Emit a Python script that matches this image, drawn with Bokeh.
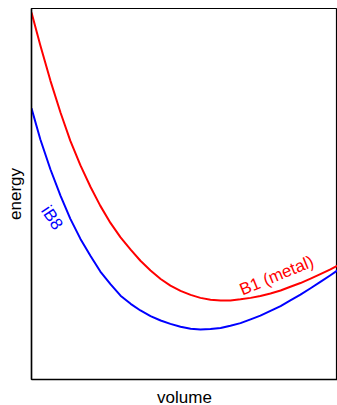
from bokeh.plotting import figure
from bokeh.models import Label, Range1d
from bokeh.embed import file_html
from bokeh.resources import INLINE

# Energy-volume curves of two phases (arbitrary units), sampled on a common volume grid
volume = [0.00, 0.29, 0.62, 0.95, 1.27, 1.60, 1.93, 2.25, 2.58, 2.91,
          3.24, 3.56, 3.89, 4.22, 4.54, 4.87, 5.20, 5.52, 5.85, 6.18,
          6.50, 6.83, 7.16, 7.48, 7.81, 8.14, 8.46, 8.79, 9.12, 9.44,
          9.77, 10.00]

b1_energy = [9.89, 9.00, 8.05, 7.19, 6.43, 5.77, 5.19, 4.68, 4.22, 3.83,
             3.50, 3.20, 2.94, 2.71, 2.53, 2.39, 2.28, 2.20, 2.15, 2.13,
             2.13, 2.16, 2.20, 2.25, 2.32, 2.40, 2.50, 2.60, 2.72, 2.84,
             2.97, 3.07]

ib8_energy = [7.31, 6.47, 5.66, 4.95, 4.33, 3.79, 3.33, 2.91, 2.57, 2.26,
              2.04, 1.86, 1.71, 1.59, 1.50, 1.42, 1.37, 1.35, 1.36, 1.39,
              1.45, 1.52, 1.62, 1.72, 1.85, 1.98, 2.13, 2.29, 2.46, 2.63,
              2.81, 2.94]

FONT = "Liberation Sans"

p = figure(
    frame_width=306, frame_height=371,
    min_border_left=31, min_border_right=0,
    min_border_top=8, min_border_bottom=26,
    x_range=Range1d(0, 10), y_range=Range1d(0, 10),
    output_backend="svg", toolbar_location=None,
)

p.grid.visible = False
p.outline_line_color = "black"
p.outline_line_width = 1.2

for ax in (p.xaxis[0], p.yaxis[0]):
    ax.ticker = []
    ax.major_tick_line_color = None
    ax.minor_tick_line_color = None
    ax.major_label_text_font_size = "0px"
    ax.major_label_standoff = 0
    ax.major_tick_out = 0
    ax.axis_line_color = "black"
    ax.axis_line_width = 1.5
    ax.axis_label_text_font = FONT
    ax.axis_label_text_font_size = "17px"
    ax.axis_label_text_font_style = "normal"
    ax.axis_label_text_color = "black"

p.xaxis.axis_label = "volume"
p.xaxis.axis_label_standoff = 8
p.yaxis.axis_label = "energy"
p.yaxis.axis_label_standoff = 7

p.line(volume, b1_energy, line_color="#ff0000", line_width=2, line_join="round")
p.line(volume, ib8_energy, line_color="#0000ff", line_width=2, line_join="round")

p.add_layout(Label(x=8.01, y=2.80, text="B1 (metal)", angle=0.39,
                   text_align="center", text_baseline="middle",
                   text_color="#ff0000", text_font=FONT,
                   text_font_size="17px"))
p.add_layout(Label(x=0.67, y=4.36, text="iB8", angle=-0.98,
                   text_align="center", text_baseline="middle",
                   text_color="#0000ff", text_font=FONT,
                   text_font_size="17px"))

open("out.html", "w").write(file_html(p, INLINE))
